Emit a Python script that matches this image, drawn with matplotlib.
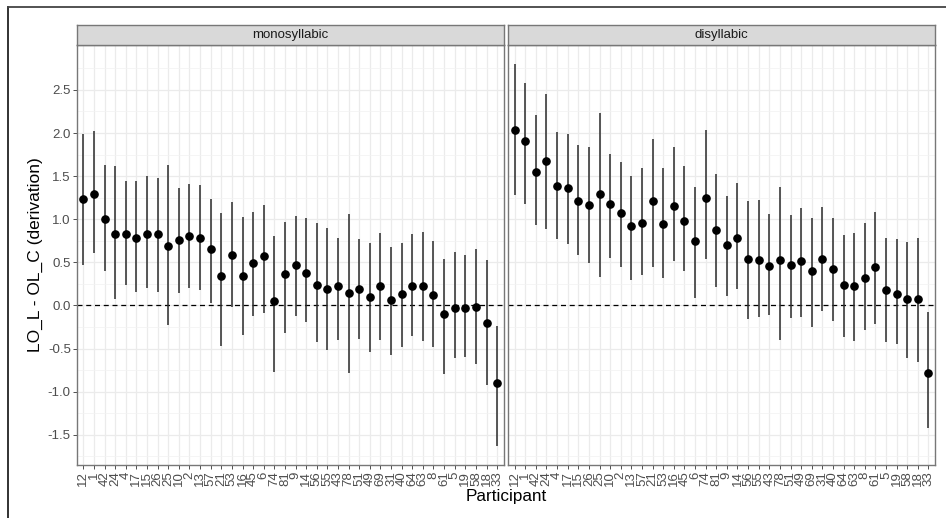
import matplotlib
matplotlib.use('Agg')
import matplotlib.pyplot as plt
from matplotlib.lines import Line2D
import numpy as np

plt.rcParams['font.family'] = ['Liberation Sans', 'DejaVu Sans']
plt.rcParams['axes.unicode_minus'] = False

participants = ['12', '1', '42', '24', '4', '17', '15', '26', '25', '10', '2', '13', '57', '21',
                '53', '16', '45', '6', '74', '81', '9', '14', '56', '55', '43', '78', '51', '49',
                '69', '31', '40', '64', '63', '8', '61', '5', '19', '58', '18', '33']
panels = ['monosyllabic', 'disyllabic']

# monosyllabic: estimate, lower, upper
mono_est = [1.24, 1.29, 1.00, 0.83, 0.83, 0.78, 0.83, 0.83, 0.69, 0.76, 0.80, 0.78, 0.65, 0.34,
            0.59, 0.34, 0.49, 0.57, 0.05, 0.36, 0.47, 0.38, 0.24, 0.19, 0.22, 0.14, 0.19, 0.10,
            0.22, 0.06, 0.13, 0.22, 0.22, 0.12, -0.10, -0.03, -0.03, -0.02, -0.20, -0.90]
mono_lo = [0.47, 0.61, 0.40, 0.08, 0.24, 0.15, 0.20, 0.16, -0.23, 0.14, 0.20, 0.18, 0.03, -0.47,
           -0.02, -0.34, -0.12, -0.09, -0.77, -0.32, -0.12, -0.19, -0.42, -0.52, -0.40, -0.78,
           -0.39, -0.54, -0.40, -0.58, -0.48, -0.35, -0.41, -0.48, -0.79, -0.61, -0.60, -0.68,
           -0.92, -1.63]
mono_hi = [1.99, 2.02, 1.63, 1.62, 1.44, 1.44, 1.50, 1.48, 1.63, 1.36, 1.41, 1.40, 1.23, 1.07,
           1.20, 1.03, 1.08, 1.17, 0.81, 0.97, 1.04, 1.02, 0.96, 0.90, 0.78, 1.06, 0.77, 0.73,
           0.84, 0.68, 0.73, 0.83, 0.85, 0.75, 0.54, 0.62, 0.58, 0.66, 0.53, -0.24]

# disyllabic: estimate, lower, upper
di_est = [2.03, 1.91, 1.55, 1.68, 1.38, 1.36, 1.21, 1.17, 1.29, 1.18, 1.07, 0.92, 0.96, 1.21,
          0.95, 1.15, 0.98, 0.75, 1.25, 0.87, 0.70, 0.78, 0.54, 0.53, 0.46, 0.53, 0.47, 0.51,
          0.40, 0.54, 0.42, 0.24, 0.22, 0.32, 0.45, 0.18, 0.13, 0.07, 0.08, -0.78]
di_lo = [1.28, 1.18, 0.93, 0.89, 0.77, 0.71, 0.58, 0.49, 0.33, 0.55, 0.44, 0.30, 0.35, 0.45,
         0.32, 0.51, 0.40, 0.09, 0.54, 0.21, 0.11, 0.19, -0.16, -0.14, -0.11, -0.40, -0.15,
         -0.13, -0.25, -0.07, -0.18, -0.37, -0.41, -0.29, -0.21, -0.42, -0.45, -0.61, -0.66,
         -1.42]
di_hi = [2.80, 2.58, 2.21, 2.45, 2.01, 1.99, 1.86, 1.84, 2.23, 1.76, 1.66, 1.50, 1.59, 1.93,
         1.59, 1.84, 1.62, 1.37, 2.03, 1.52, 1.27, 1.42, 1.21, 1.22, 1.06, 1.37, 1.05, 1.13,
         1.01, 1.14, 1.01, 0.82, 0.84, 0.96, 1.08, 0.78, 0.77, 0.74, 0.78, -0.08]

data = {
    'monosyllabic': (mono_est, mono_lo, mono_hi),
    'disyllabic': (di_est, di_lo, di_hi),
}

W, H = 946, 518
fig = plt.figure(figsize=(W / 100, H / 100), dpi=100)

all_lo = min(min(mono_lo), min(di_lo))
all_hi = max(max(mono_hi), max(di_hi))
pad = 0.05 * (all_hi - all_lo)
ylim = (all_lo - pad, all_hi + pad)

panel_x = [77, 508.3]
panel_w = 426.5
panel_top, panel_bot = 45, 465
strip_top = 25

x = np.arange(len(participants))
for i, name in enumerate(panels):
    est, lo, hi = data[name]
    ax = fig.add_axes([panel_x[i] / W, (H - panel_bot) / H, panel_w / W, (panel_bot - panel_top) / H])
    ax.set_xlim(-0.6, len(participants) - 0.4)
    ax.set_ylim(*ylim)
    ax.set_yticks(np.arange(-1.5, 2.51, 0.5))
    ax.set_yticks(np.arange(-1.75, 2.8, 0.5), minor=True)
    ax.set_xticks(x)
    ax.set_xticklabels(participants, rotation=90, fontsize=9.5, color='#4D4D4D')
    ax.grid(True, which='major', color='#EBEBEB', linewidth=0.9)
    ax.grid(True, which='minor', axis='y', color='#F2F2F2', linewidth=0.5)
    ax.set_axisbelow(True)
    ax.tick_params(axis='both', which='major', length=3, width=0.6, color='#333333',
                   labelsize=9.5, labelcolor='#4D4D4D', pad=1.5)
    ax.tick_params(axis='both', which='minor', length=0)
    if i == 0:
        ax.set_yticklabels(['%.1f' % v for v in np.arange(-1.5, 2.51, 0.5)])
    else:
        ax.tick_params(axis='y', which='major', length=0, labelleft=False)
    for s in ax.spines.values():
        s.set_color('#777777')
        s.set_linewidth(1.0)

    ax.axhline(0, color='black', linestyle=(0, (4, 3)), linewidth=0.9, zorder=2)
    ax.vlines(x, lo, hi, color='#2a2a2a', linewidth=1.1, zorder=3)
    ax.plot(x, est, 'o', color='black', markersize=5.2, zorder=4)

    sax = fig.add_axes([panel_x[i] / W, (H - panel_top) / H, panel_w / W, (panel_top - strip_top) / H])
    sax.set_facecolor('#D9D9D9')
    sax.set_xticks([])
    sax.set_yticks([])
    for s in sax.spines.values():
        s.set_color('#777777')
        s.set_linewidth(1.0)
    sax.text(0.5, 0.5, name, ha='center', va='center', fontsize=9.5, color='#1A1A1A',
             transform=sax.transAxes)

fig.text(35 / W, 1 - ((panel_top + panel_bot) / 2) / H, 'LO_L - OL_C (derivation)',
         rotation=90, ha='center', va='center', fontsize=12.5)
fig.text(506 / W, 1 - 496 / H, 'Participant', ha='center', va='center', fontsize=12.3)

# frame of the screenshot (left and top edges)
fig.add_artist(Line2D([8 / W, 8 / W], [0, 1 - 7 / H], color='#222222', linewidth=1.3))
fig.add_artist(Line2D([8 / W, 1], [1 - 7 / H, 1 - 7 / H], color='#444444', linewidth=1.3))

fig.savefig('out.png', dpi=100)
